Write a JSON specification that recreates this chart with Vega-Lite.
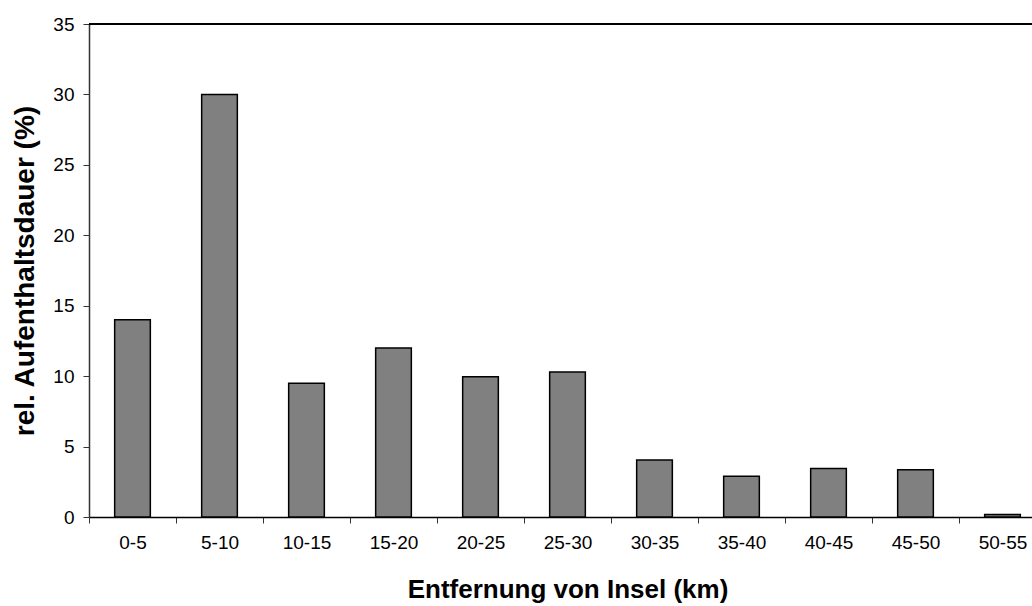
{
  "$schema": "https://vega.github.io/schema/vega-lite/v6.json",
  "width": 943,
  "height": 493,
  "autosize": "none",
  "padding": {"left": 89, "top": 24, "right": 0, "bottom": 89},
  "background": "white",
  "config": {
    "view": {"stroke": null},
    "font": "Liberation Sans"
  },
  "data": {
    "values": [
      {"range": "0-5", "value": 14.0},
      {"range": "5-10", "value": 30.0},
      {"range": "10-15", "value": 9.5},
      {"range": "15-20", "value": 12.0},
      {"range": "20-25", "value": 9.95},
      {"range": "25-30", "value": 10.3},
      {"range": "30-35", "value": 4.05},
      {"range": "35-40", "value": 2.9},
      {"range": "40-45", "value": 3.45},
      {"range": "45-50", "value": 3.36},
      {"range": "50-55", "value": 0.17}
    ]
  },
  "layer": [
    {
      "mark": {"type": "bar", "fill": "#808080", "stroke": "#000000", "strokeWidth": 1.5, "width": {"band": 0.41}},
      "encoding": {
        "x": {
          "field": "range",
          "type": "nominal",
          "sort": null,
          "scale": {"range": [0, 957], "paddingInner": 0, "paddingOuter": 0},
          "axis": {
            "title": "Entfernung von Insel (km)",
            "titleFont": "Liberation Sans",
            "titleFontSize": 26,
            "titleFontWeight": "bold",
            "titleColor": "#000000",
            "titlePadding": 24,
            "labelAngle": 0,
            "labelFontSize": 19,
            "labelColor": "#000000",
            "labelPadding": 10,
            "tickBand": "extent",
            "tickSize": 6,
            "tickColor": "#333333",
            "domainColor": "#000000",
            "domainWidth": 1.5
          }
        },
        "y": {
          "field": "value",
          "type": "quantitative",
          "scale": {"domain": [0, 35], "nice": false},
          "axis": {
            "title": "rel. Aufenthaltsdauer (%)",
            "titleFont": "Liberation Sans",
            "titleFontSize": 28,
            "titleFontWeight": "bold",
            "titleColor": "#000000",
            "titlePadding": 13,
            "values": [0, 5, 10, 15, 20, 25, 30, 35],
            "labelFontSize": 19,
            "labelColor": "#000000",
            "labelPadding": 9,
            "tickSize": 6,
            "tickColor": "#333333",
            "domainColor": "#333333",
            "domainWidth": 1.5,
            "grid": false
          }
        }
      }
    },
    {
      "mark": {"type": "rule", "stroke": "#000000", "strokeWidth": 1.5},
      "encoding": {"y": {"datum": 35}}
    }
  ]
}
